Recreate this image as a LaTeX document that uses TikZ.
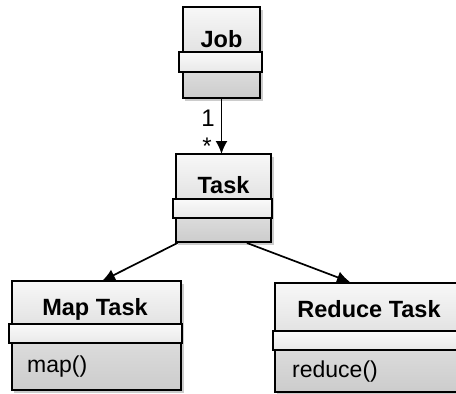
\documentclass[tikz,border=0pt]{standalone}
\usepackage{fontspec}
\setmainfont{Liberation Sans}
\usetikzlibrary{arrows.meta,calc,shadows}
\begin{document}
\begin{tikzpicture}[x=1pt,y=-1pt,
  frame/.style={draw=none, inner sep=0pt, outer sep=0pt},
  topcomp/.style={draw=black, line width=1.7pt, top color=gray!6, bottom color=gray!22},
  bandcomp/.style={draw=black, line width=1.7pt, top color=gray!4, bottom color=gray!18},
  botcomp/.style={draw=black, line width=1.7pt, top color=gray!28, bottom color=gray!40},
  shade/.style={fill=black, opacity=0.2, draw=none},
  title/.style={font=\fontsize{23.5}{27}\selectfont\bfseries, anchor=base, inner sep=0pt},
  member/.style={font=\fontsize{23}{27}\selectfont, anchor=base west, inner sep=0pt},
  mult/.style={font=\fontsize{24}{27}\selectfont, inner sep=0pt},
  conn/.style={line width=1.7pt, -{Latex[length=13pt,width=12pt]}}
]
\useasboundingbox (0,0) rectangle (456,394);

% ---------- Job ----------
\node[frame, minimum width=77pt, minimum height=91pt] (job) at (221.5,52.5) {};
\fill[shade] (185,10) rectangle (263,101);
\draw[botcomp] (183,72) rectangle (260,98);
\draw[topcomp] (183,7) rectangle (260,52);
\draw[bandcomp] (179,52) rectangle (262,72);
\node[title] (jobt) at (221.5,47) {Job};

% ---------- Task ----------
\node[frame, minimum width=95pt, minimum height=88pt] (task) at (223.5,198) {};
\fill[shade] (178,157) rectangle (274,245);
\draw[botcomp] (176,218) rectangle (271,242);
\draw[topcomp] (176,154) rectangle (271,199);
\draw[bandcomp] (173,199) rectangle (272,218);
\node[title] (taskt) at (223.5,193) {Task};

% ---------- Map Task ----------
\node[frame, minimum width=169pt, minimum height=109pt] (map) at (96.5,335.5) {};
\fill[shade] (14,284) rectangle (184,393);
\draw[botcomp] (12,343) rectangle (181,390);
\draw[topcomp] (12,281) rectangle (181,324);
\draw[bandcomp] (9,324) rectangle (182,343);
\node[title] (mapt) at (95,315) {Map Task};
\node[member] (mapm) at (27,372) {map()};

% ---------- Reduce Task ----------
\node[frame, minimum width=185pt, minimum height=109pt] (reduce) at (367.5,337.5) {};
\fill[shade] (277,286) rectangle (462,395);
\draw[botcomp] (275,350) rectangle (460,392);
\draw[topcomp] (275,283) rectangle (460,331);
\draw[bandcomp] (273,331) rectangle (462,350);
\node[title] (reducet) at (369,317) {Reduce Task};
\node[member] (reducem) at (292,377) {reduce()};

% ---------- connectors ----------
\coordinate (jobbot) at ($(job.south)+(0,0)$);
\draw[conn] (jobbot) -- (jobbot |- task.north);
\node[mult] (one) at (208,118) {1};
\node[mult] (star) at (207,146) {*};

\coordinate (tl) at ($(task.south)+(-46,1)$);
\coordinate (ml) at ($(map.north)+(5.5,0)$);
\draw[conn] (tl) -- (ml);

\coordinate (tr) at ($(task.south)+(23.5,1)$);
\coordinate (rr) at ($(reduce.north)+(-17.5,-1)$);
\draw[conn] (tr) -- (rr);
\end{tikzpicture}
\end{document}
